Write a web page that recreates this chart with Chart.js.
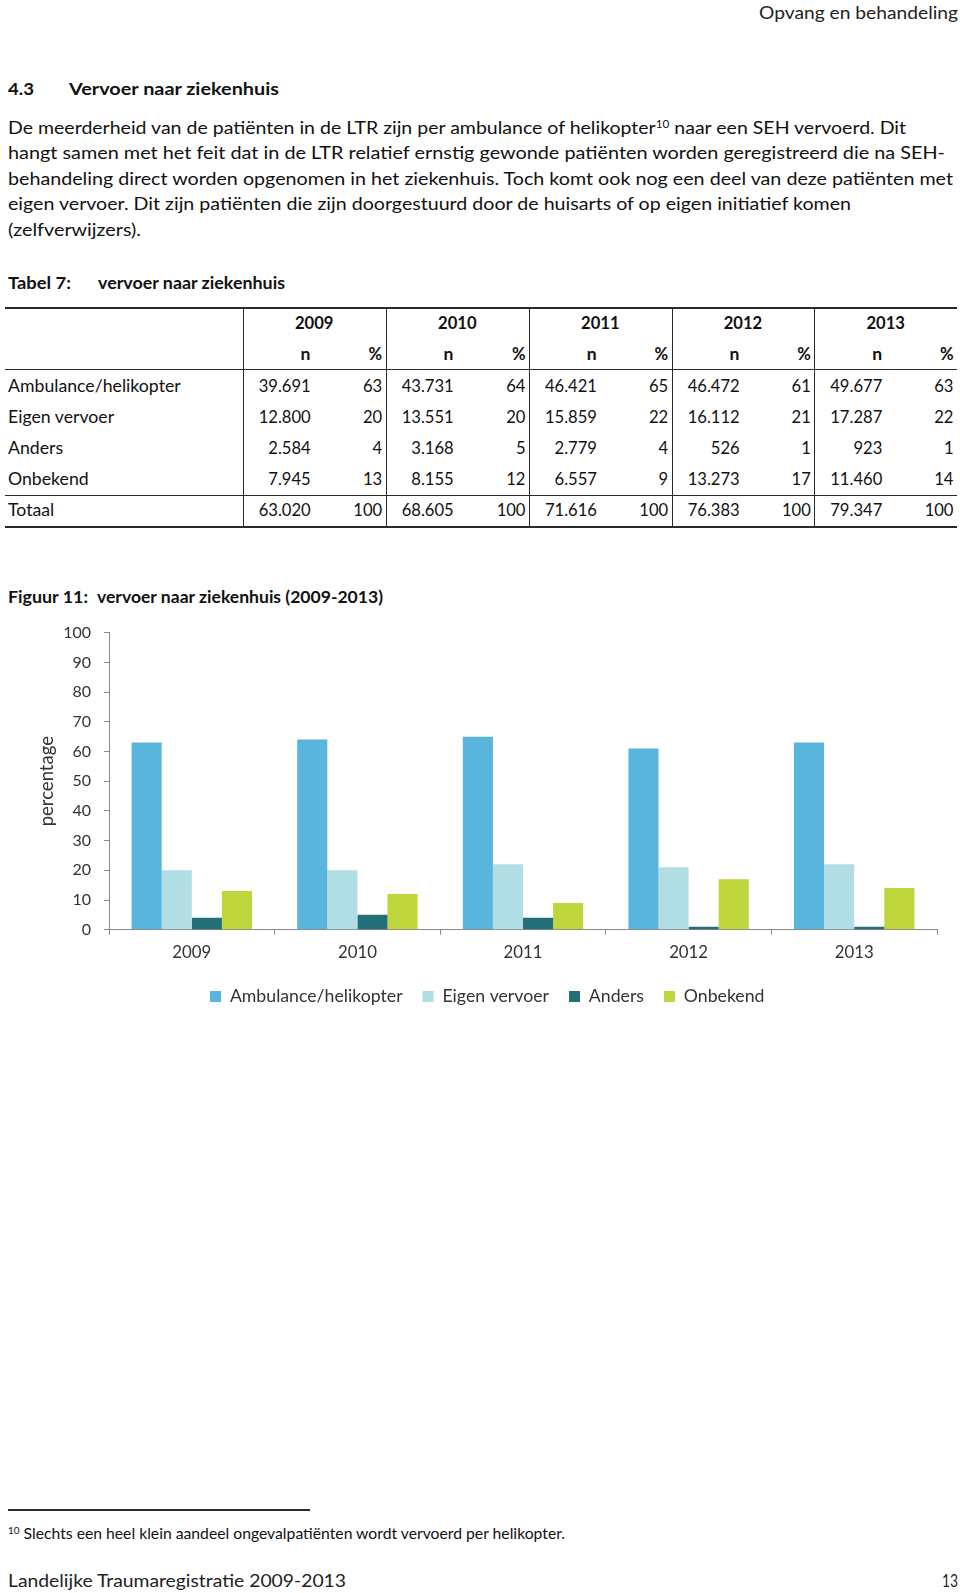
<!DOCTYPE html>
<html><head><meta charset="utf-8">
<script src="https://cdn.jsdelivr.net/npm/chart.js@4.4.1/dist/chart.umd.min.js"></script>
<style>
html,body{margin:0;padding:0;background:#fff;}
body{width:960px;height:1593px;position:relative;overflow:hidden;font-family:Lato,"Open Sans",sans-serif;color:#111;}
.t{position:absolute;white-space:nowrap;line-height:24px;height:24px;transform-origin:0 50%;}
.b{font-weight:bold;}
.hl{position:absolute;background:#2a2a2a;}
sup{font-size:10.5px;line-height:0;vertical-align:6px;}
#chartWrap{position:absolute;left:0;top:600px;width:960px;height:414px;}
</style></head>
<body>
<div class="t" style="top:0px;font-size:18px;color:#222" data-w="199" data-r="958">Opvang en behandeling</div>

<div class="t b" style="left:7.5px;top:77.3px;font-size:17.5px" data-w="26">4.3</div>
<div class="t b" style="left:68.5px;top:77.3px;font-size:17.5px" data-w="210">Vervoer naar ziekenhuis</div>

<div class="t" style="left:8px;top:116.3px;font-size:17.5px" data-w="898">De meerderheid van de patiënten in de LTR zijn per ambulance of helikopter<sup>10</sup> naar een SEH vervoerd. Dit</div>
<div class="t" style="left:8px;top:141.3px;font-size:17.5px" data-w="937">hangt samen met het feit dat in de LTR relatief ernstig gewonde patiënten worden geregistreerd die na SEH-</div>
<div class="t" style="left:8px;top:166.5px;font-size:17.5px" data-w="945">behandeling direct worden opgenomen in het ziekenhuis. Toch komt ook nog een deel van deze patiënten met</div>
<div class="t" style="left:8px;top:192px;font-size:17.5px" data-w="843">eigen vervoer. Dit zijn patiënten die zijn doorgestuurd door de huisarts of op eigen initiatief komen</div>
<div class="t" style="left:8px;top:217.5px;font-size:17.5px" data-w="133">(zelfverwijzers).</div>

<div class="t b" style="left:8px;top:270.5px;font-size:17px" data-w="63">Tabel 7:</div>
<div class="t b" style="left:97.5px;top:270.5px;font-size:17px" data-w="187">vervoer naar ziekenhuis</div>

<div id="table"></div>

<div class="t b" style="left:7.5px;top:584.7px;font-size:17px" data-w="80">Figuur 11:</div>
<div class="t b" style="left:96.7px;top:584.7px;font-size:17px" data-w="286">vervoer naar ziekenhuis (2009-2013)</div>

<div id="chartWrap"><canvas id="c" width="960" height="414"></canvas></div>

<div class="hl" style="left:8px;top:1509px;width:302px;height:1.5px;"></div>
<div class="t" style="left:8px;top:1521px;font-size:15px" data-w="557"><sup style="font-size:9.5px;vertical-align:5px">10</sup> Slechts een heel klein aandeel ongevalpatiënten wordt vervoerd per helikopter.</div>

<div class="t" style="left:8px;top:1568px;font-size:18px;color:#222" data-w="338">Landelijke Traumaregistratie 2009-2013</div>
<div class="t" style="top:1568px;font-size:18px;color:#222" data-w="16" data-r="958">13</div>

<script>
// ---- chart data ----
const years = ['2009', '2010', '2011', '2012', '2013'];
const seriesNames = ['Ambulance/helikopter', 'Eigen vervoer', 'Anders', 'Onbekend'];
const ambulance = [63, 64, 65, 61, 63];
const eigenVervoer = [20, 20, 22, 21, 22];
const anders = [4, 5, 4, 1, 1];
const onbekend = [13, 12, 9, 17, 14];
const seriesColors = ['#59B5DC', '#B1DDE5', '#236F79', '#BED53B'];
const yMin = 0, yMax = 100, yStep = 10;

// ---- table data ----
const tableRowLabels = ['Ambulance/helikopter', 'Eigen vervoer', 'Anders', 'Onbekend', 'Totaal'];
const nAmbulance = ['39.691', '43.731', '46.421', '46.472', '49.677'];
const nEigen = ['12.800', '13.551', '15.859', '16.112', '17.287'];
const nAnders = ['2.584', '3.168', '2.779', '526', '923'];
const nOnbekend = ['7.945', '8.155', '6.557', '13.273', '11.460'];
const nTotaal = ['63.020', '68.605', '71.616', '76.383', '79.347'];
const pctTotaal = [100, 100, 100, 100, 100];

// ---- build table ----
(function(){
  const tb = document.getElementById('table');
  const gL = [242.7, 385.7, 529, 671.7, 814.3];
  const gR = [385.7, 529, 671.7, 814.3, 957];
  const rowY = [385.7, 416.7, 447.7, 478.5, 510];
  function line(x, y, w, h){ const d=document.createElement('div'); d.className='hl'; d.style.cssText=`left:${x}px;top:${y}px;width:${w}px;height:${h}px;`; tb.appendChild(d); }
  function txt(s, yc, opt){
    const d=document.createElement('div'); d.className='t'+(opt.bold?' b':''); d.textContent=s;
    d.style.fontSize=(opt.fs||16.6)+'px'; d.style.top=(yc-12)+'px';
    tb.appendChild(d);
    const w=d.getBoundingClientRect().width;
    if(opt.right!==undefined) d.style.left=(opt.right-w)+'px';
    else if(opt.center!==undefined) d.style.left=(opt.center-w/2)+'px';
    else d.style.left=opt.left+'px';
  }
  line(5, 306.7, 952, 2);
  line(5, 368.5, 952, 1);
  line(5, 494.5, 952, 1);
  line(5, 526, 952, 2);
  gL.forEach(x=>line(x, 307, 1, 220));
  years.forEach((y,i)=>{
    txt(y, 323, {bold:true, center:(gL[i]+gR[i])/2});
    txt('n', 354, {bold:true, right:gL[i]+67.7, fs:17.5});
    txt('%', 354, {bold:true, right:gR[i]-3.5});
  });
  const nCols = [nAmbulance, nEigen, nAnders, nOnbekend, nTotaal];
  const pCols = [ambulance, eigenVervoer, anders, onbekend, pctTotaal];
  tableRowLabels.forEach((lab,r)=>{
    txt(lab, rowY[r], {left:8, fs:17.7});
    years.forEach((y,i)=>{
      txt(nCols[r][i], rowY[r], {right:gL[i]+68});
      txt(String(pCols[r][i]), rowY[r], {right:gR[i]-3.5});
    });
  });
})();

// ---- fit page text ----
function fitText(){
  document.querySelectorAll('[data-w]').forEach(el=>{
    el.style.transform='none';
    const w = el.getBoundingClientRect().width;
    const tw = parseFloat(el.dataset.w);
    el.style.transform = `scaleX(${tw/w})`;
    if(el.dataset.r){ el.style.left = (parseFloat(el.dataset.r)-tw)+'px'; }
  });
}
fitText();

// ---- chart ----
const CANVAS_H = 414;
const AREA_BOTTOM = 329.7;
const legendPlace = {
  id: 'legendPlace',
  afterLayout(chart){
    const lg = chart.legend;
    if(lg){ const h = lg.height; lg.top = 367.6; lg.bottom = lg.top + h; }
  }
};
const seriesData = [ambulance, eigenVervoer, anders, onbekend];
new Chart(document.getElementById('c'), {
  type: 'bar',
  data: {
    labels: years,
    datasets: seriesNames.map((n, i) => ({
      label: n,
      data: seriesData[i],
      backgroundColor: seriesColors[i],
      borderWidth: 0,
      categoryPercentage: 0.727,
      barPercentage: 1
    }))
  },
  options: {
    responsive: false,
    animation: false,
    devicePixelRatio: 1,
    events: [],
    layout: { padding: { left: 37.5, right: 23, top: 32.7, bottom: 0 } },
    plugins: {
      tooltip: { enabled: false },
      legend: {
        position: 'bottom',
        labels: { boxWidth: 11, boxHeight: 11, padding: 20, color: '#333', font: { family: 'Lato', size: 17.7 } }
      }
    },
    scales: {
      x: {
        grid: { display: true, drawOnChartArea: false, drawTicks: true, tickLength: 5, color: '#888', offset: true },
        border: { display: true, color: '#888', width: 1 },
        ticks: { color: '#333', font: { family: 'Lato', size: 16.8 }, padding: 8 },
        afterFit(s){ const lg = s.chart.legend; s.height = (CANVAS_H - AREA_BOTTOM) - (lg ? lg.height : 0); }
      },
      y: {
        min: yMin, max: yMax,
        ticks: { stepSize: yStep, color: '#333', font: { family: 'Lato', size: 16 }, padding: 13 },
        grid: { drawOnChartArea: false, drawTicks: true, tickLength: 5, color: '#888' },
        border: { display: true, color: '#888', width: 1 },
        title: { display: true, text: 'percentage', color: '#333', font: { family: 'Lato', size: 18.5 }, padding: { top: -1.5, bottom: 0 } },
        afterFit(s){ s.width = 71.5; }
      }
    }
  },
  plugins: [legendPlace]
});
</script>
</body></html>
